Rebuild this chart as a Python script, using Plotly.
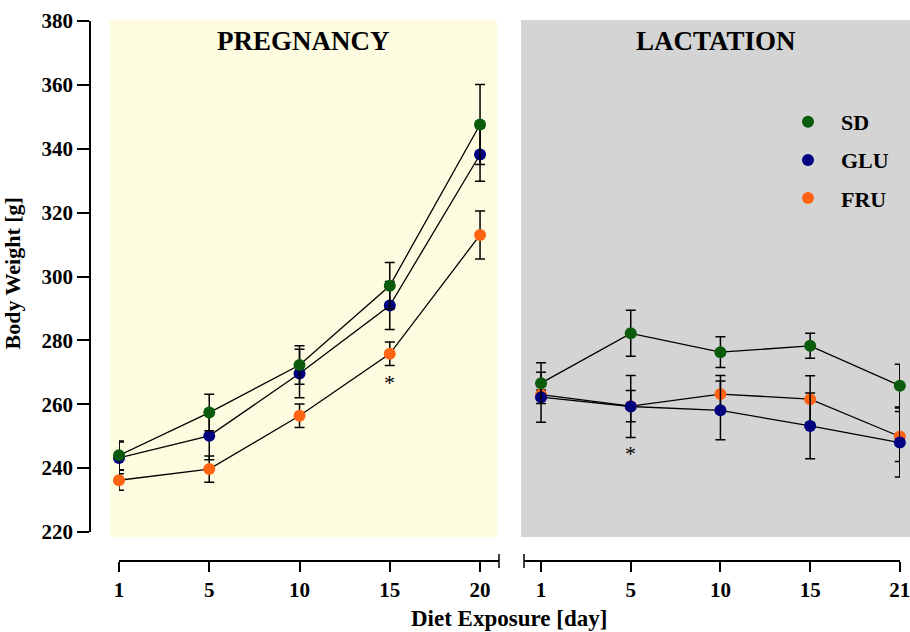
import plotly.graph_objects as go

# ---------------- data ----------------
days_preg = ["1", "5", "10", "15", "20"]
days_lact = ["1", "5", "10", "15", "21"]

sd_preg = [244.0, 257.4, 272.3, 297.1, 347.6]
sd_preg_err = [4.5, 5.7, 6.0, 7.3, 12.5]
glu_preg = [243.2, 250.1, 269.6, 290.9, 338.2]
glu_preg_err = [5.0, 7.5, 7.6, 7.5, 8.4]
fru_preg = [236.2, 239.7, 256.4, 275.8, 313.0]
fru_preg_err = [3.1, 4.1, 3.7, 3.7, 7.5]

sd_lact = [266.6, 282.2, 276.3, 278.3, 265.8]
sd_lact_err = [6.4, 7.2, 4.8, 3.9, 6.7]
glu_lact = [262.2, 259.3, 258.1, 253.2, 248.0]
glu_lact_err = [7.8, 9.7, 9.2, 10.3, 10.8]
fru_lact = [263.0, 259.4, 263.2, 261.6, 249.9]
fru_lact_err = [1.5, 4.9, 5.8, 7.3, 7.8]

sig_preg = ["", "", "", "*", ""]
sig_lact = ["", "*", "", "", ""]

series_names = ["SD", "GLU", "FRU"]
y_ticks = [220, 240, 260, 280, 300, 320, 340, 360, 380]

# ---------------- style ----------------
FONT = "Liberation Serif, Times New Roman, serif"
colors = {"SD": "#0a5c0c", "GLU": "#01017f", "FRU": "#ff6413"}

preg = {"SD": (sd_preg, sd_preg_err), "GLU": (glu_preg, glu_preg_err), "FRU": (fru_preg, fru_preg_err)}
lact = {"SD": (sd_lact, sd_lact_err), "GLU": (glu_lact, glu_lact_err), "FRU": (fru_lact, fru_lact_err)}

fig = go.Figure()

panels = [(preg, days_preg, "x"), (lact, days_lact, "x2")]

# lines first (beneath markers)
for data, days, xa in panels:
    pos = list(range(len(days)))
    for name in ["FRU", "GLU", "SD"]:
        vals, errs = data[name]
        fig.add_trace(go.Scatter(
            x=pos, y=vals, xaxis=xa, yaxis="y", mode="lines",
            line=dict(color="black", width=1.3), showlegend=False,
            hoverinfo="skip", cliponaxis=False))

# markers with error bars
rank = {"SD": 1, "GLU": 2, "FRU": 3}
for pi, (data, days, xa) in enumerate(panels):
    pos = list(range(len(days)))
    for name in ["FRU", "GLU", "SD"]:
        vals, errs = data[name]
        fig.add_trace(go.Scatter(
            x=pos, y=vals, xaxis=xa, yaxis="y", mode="markers", name=name,
            marker=dict(color=colors[name], size=12, line=dict(width=0)),
            error_y=dict(type="data", array=errs, color="black", thickness=1.5, width=5),
            showlegend=(pi == 0), legendrank=rank[name], legendgroup=name,
            cliponaxis=False))

# significance asterisks
annotations = []
for data, days, xa, sig in [(preg, days_preg, "x", sig_preg), (lact, days_lact, "x2", sig_lact)]:
    for i, s in enumerate(sig):
        if s:
            low = min(data[n][0][i] - data[n][1][i] for n in series_names)
            annotations.append(dict(x=i, y=low, xref=xa, yref="y", text=s, showarrow=False,
                                    yanchor="top", yshift=-2,
                                    font=dict(family=FONT, size=22, color="black")))

# panel titles (centred on the panel backgrounds)
annotations.append(dict(x=(303.5 - 90) / 810, y=0.963, xref="paper", yref="paper", text="PREGNANCY",
                        showarrow=False, xanchor="center", yanchor="middle",
                        font=dict(family=FONT, size=27, color="black", weight="bold")))
annotations.append(dict(x=(715.5 - 90) / 810, y=0.963, xref="paper", yref="paper", text="LACTATION",
                        showarrow=False, xanchor="center", yanchor="middle",
                        font=dict(family=FONT, size=27, color="black", weight="bold")))
# axis titles
annotations.append(dict(x=(509 - 90) / 810, y=-0.107, xref="paper", yref="paper", text="Diet Exposure [day]",
                        showarrow=False, xanchor="center", yanchor="middle",
                        font=dict(family=FONT, size=23, color="black", weight="bold")))
annotations.append(dict(x=(12 - 90) / 810, y=(561 - 273.5) / 540, xref="paper", yref="paper",
                        text="Body Weight [g]", textangle=-90,
                        showarrow=False, xanchor="center", yanchor="middle",
                        font=dict(family=FONT, size=22, color="black", weight="bold")))

shapes = [
    dict(type="rect", xref="paper", yref="paper", x0=(110 - 90) / 810, x1=(497 - 90) / 810,
         y0=(561 - 537) / 540, y1=(561 - 20) / 540, fillcolor="#fdfce1", line=dict(width=0), layer="below"),
    dict(type="rect", xref="paper", yref="paper", x0=(521 - 90) / 810, x1=(915 - 90) / 810,
         y0=(561 - 537) / 540, y1=(561 - 20) / 540, fillcolor="#d4d4d4", line=dict(width=0), layer="below"),
    dict(type="line", xref="x domain", yref="paper", x0=1, x1=1, y0=-0.013, y1=0.013,
         line=dict(color="black", width=1.5)),
    dict(type="line", xref="x2 domain", yref="paper", x0=0, x1=0, y0=-0.013, y1=0.013,
         line=dict(color="black", width=1.5)),
]

tickfont = dict(family=FONT, size=21, color="black", weight="bold")
xcommon = dict(showline=True, linecolor="black", linewidth=1.5, ticks="outside", ticklen=10,
               tickwidth=1.5, tickcolor="black", showgrid=False, zeroline=False,
               tickfont=tickfont, anchor="free", position=0, fixedrange=True,
               ticklabeloverflow="allow")

fig.update_layout(
    width=910, height=632,
    margin=dict(l=90, r=10, t=21, b=71, autoexpand=False),
    paper_bgcolor="white", plot_bgcolor="rgba(0,0,0,0)",
    xaxis=dict(domain=[(119 - 90) / 810, (499 - 90) / 810], range=[0, 4.21],
               tickvals=list(range(len(days_preg))), ticktext=days_preg, **xcommon),
    xaxis2=dict(domain=[(524 - 90) / 810, 1.0], range=[-0.19, 4.002],
                tickvals=list(range(len(days_lact))), ticktext=days_lact, **xcommon),
    yaxis=dict(domain=[(561 - 532) / 540, 1.0], range=[220, 380], tickvals=y_ticks,
               showline=True, linecolor="black", linewidth=1.5, ticks="outside", ticklen=12,
               tickwidth=1.5, tickcolor="black", showgrid=False, zeroline=False,
               tickfont=tickfont, anchor="free", position=0, fixedrange=True,
               ticklabeloverflow="allow"),
    legend=dict(x=(775 - 90) / 810, y=(561 - 101) / 540, xanchor="left", yanchor="top",
                bgcolor="rgba(0,0,0,0)", borderwidth=0, itemwidth=56,
                traceorder="grouped", tracegroupgap=6.5,
                font=dict(family=FONT, size=22, color="black", weight="bold")),
    annotations=annotations, shapes=shapes,
    showlegend=True,
)

fig.write_html("out.html", config={"displayModeBar": False},
               post_script="document.body.style.margin='0';document.body.style.overflow='hidden';")
